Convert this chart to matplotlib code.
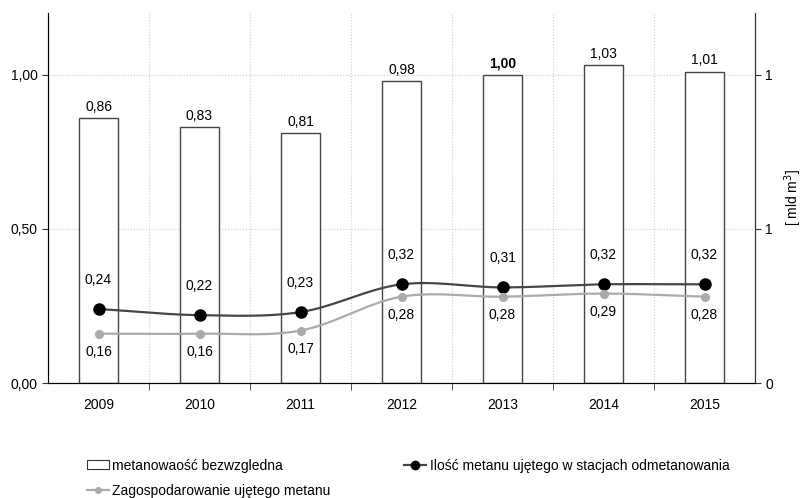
import matplotlib.pyplot as plt
import numpy as np
from matplotlib.lines import Line2D
from matplotlib.patches import Patch

plt.rcParams['font.family'] = ['Liberation Sans', 'DejaVu Sans']
plt.rcParams['font.size'] = 10

lata = ['2009', '2010', '2011', '2012', '2013', '2014', '2015']
metanowosc = [0.86, 0.83, 0.81, 0.98, 1.00, 1.03, 1.01]
ujety = [0.24, 0.22, 0.23, 0.32, 0.31, 0.32, 0.32]
zagospodarowany = [0.16, 0.16, 0.17, 0.28, 0.28, 0.29, 0.28]


# gładka linia jak w Excelu (Catmull-Rom)
def wygladz(x, y, n=30):
    x = np.asarray(x, float)
    y = np.asarray(y, float)
    px = np.concatenate([[2 * x[0] - x[1]], x, [2 * x[-1] - x[-2]]])
    py = np.concatenate([[2 * y[0] - y[1]], y, [2 * y[-1] - y[-2]]])
    xs, ys = [], []
    t = np.linspace(0, 1, n)
    for i in range(1, len(px) - 2):
        for p, out in ((px, xs), (py, ys)):
            p0, p1, p2, p3 = p[i - 1], p[i], p[i + 1], p[i + 2]
            out.extend(0.5 * (2 * p1 + (-p0 + p2) * t + (2 * p0 - 5 * p1 + 4 * p2 - p3) * t ** 2
                              + (-p0 + 3 * p1 - 3 * p2 + p3) * t ** 3))
    return xs, ys


x = np.arange(len(lata))
fig = plt.figure(figsize=(8.08, 4.98), dpi=100)
ax = fig.add_axes([48 / 808, 1 - 383 / 498, 707 / 808, 370 / 498])

ax.bar(x, metanowosc, width=0.38, color='white', edgecolor='#444444', linewidth=1, zorder=2)
for i, v in enumerate(metanowosc):
    ax.annotate(f'{v:.2f}'.replace('.', ','), (x[i], v), xytext=(0, 3), textcoords='offset points',
                ha='center', va='bottom', fontweight='bold' if lata[i] == '2013' else 'normal')

sx, sy = wygladz(x, ujety)
ax.plot(sx, sy, color='#3f4a47', lw=1.6, zorder=3)
ax.plot(x, ujety, 'o', color='black', ms=8, zorder=4)
sx, sy = wygladz(x, zagospodarowany)
ax.plot(sx, sy, color='#aaaaaa', lw=1.6, zorder=3)
ax.plot(x, zagospodarowany, 'o', color='#aaaaaa', ms=5.5, zorder=4)

for i in range(len(lata)):
    ax.annotate(f'{ujety[i]:.2f}'.replace('.', ','), (x[i], ujety[i]), xytext=(0, 16),
                textcoords='offset points', ha='center', va='bottom')
    ax.annotate(f'{zagospodarowany[i]:.2f}'.replace('.', ','), (x[i], zagospodarowany[i]),
                xytext=(0, -8), textcoords='offset points', ha='center', va='top')

ax.set_xlim(-0.5, 6.5)
ax.set_ylim(0, 1.2)
ax.set_yticks([0, 0.5, 1.0])
ax.set_yticklabels(['0,00', '0,50', '1,00'])
ax.set_xticks(x)
ax.set_xticklabels(lata)
ax.set_xticks(np.arange(0.5, 6.5, 1), minor=True)
ax.tick_params(axis='x', which='major', length=0, pad=11)
ax.tick_params(axis='x', which='minor', length=5, color='#333333')
ax.tick_params(axis='y', length=4, color='#333333')
ax.grid(axis='y', which='major', ls=':', color='#cccccc', lw=0.8)
ax.grid(axis='x', which='minor', ls=':', color='#cccccc', lw=0.8)
ax.set_axisbelow(True)
ax.spines['top'].set_visible(False)
for s in ['left', 'right', 'bottom']:
    ax.spines[s].set_color('#333333')

ax2 = ax.twinx()
ax2.set_ylim(0, 1.2)
ax2.set_yticks([0, 0.5, 1.0])
ax2.set_yticklabels(['0', '1', '1'])
ax2.tick_params(axis='y', length=4, color='#333333')
ax2.spines['top'].set_visible(False)
ax2.spines['right'].set_color('#333333')
ax2.set_ylabel('[ mld m$^3$]', labelpad=7)

uchwyty = [Patch(facecolor='white', edgecolor='#333333', lw=0.8),
           Line2D([], [], color='#aaaaaa', lw=1.6, marker='o', ms=4),
           Line2D([], [], color='#3f4a47', lw=1.6, marker='o', mfc='black', mec='black', ms=6)]
etykiety = ['metanowaość bezwzgledna', 'Zagospodarowanie ujętego metanu',
            'Ilość metanu ujętego w stacjach odmetanowania']
fig.legend(uchwyty, etykiety, ncol=2, loc='upper left', bbox_to_anchor=(74 / 808, 1 - 446 / 498),
           frameon=False, handlelength=1.6, handleheight=0.6, handletextpad=0.25,
           columnspacing=5.3, labelspacing=0.8)

fig.savefig('out.png', dpi=100)
